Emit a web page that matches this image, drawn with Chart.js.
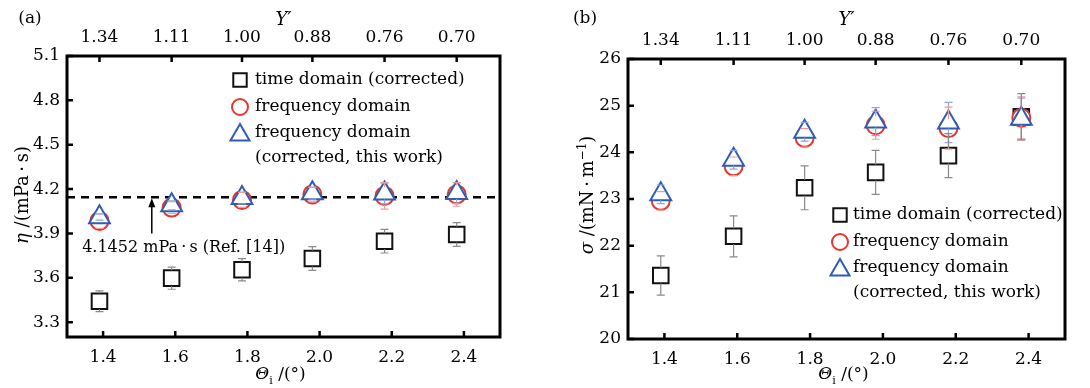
<!DOCTYPE html>
<html>
<head>
<meta charset="utf-8">
<script src="https://cdn.jsdelivr.net/npm/chart.js@4.4.1/dist/chart.umd.min.js"></script>
<style>
  body { margin: 0; background: #fff; }
  .panel { position: absolute; top: 0; width: 545px; height: 388px; }
</style>
</head>
<body>
<div class="panel" style="left:0"><canvas id="chartA" width="545" height="388"></canvas></div>
<div class="panel" style="left:545px"><canvas id="chartB" width="545" height="388"></canvas></div>
<script>
// incidence angle (bottom axis) and Y' (top axis)
const thetaI = [1.39, 1.59, 1.785, 1.98, 2.18, 2.38];
const yPrimeLabels = ['1.34', '1.11', '1.00', '0.88', '0.76', '0.70'];
const xTicks = [1.4, 1.6, 1.8, 2.0, 2.2, 2.4];

// (a) viscosity, mPa*s
const etaTime = [3.442, 3.598, 3.655, 3.731, 3.848, 3.893];
const etaTimeErr = [0.07, 0.075, 0.075, 0.08, 0.08, 0.08];
const etaFreq = [3.985, 4.075, 4.127, 4.164, 4.154, 4.164];
const etaFreqErr = [0.05, 0.04, 0.05, 0.05, 0.09, 0.08];
const etaCorr = [4.01, 4.09, 4.14, 4.172, 4.17, 4.174];
const etaCorrErr = [0.02, 0.03, 0.04, 0.04, 0.07, 0.07];
const etaRef = 4.1452;
const etaTicks = [3.3, 3.6, 3.9, 4.2, 4.5, 4.8, 5.1];

// (b) surface tension, mN/m
const sigmaTime = [21.36, 22.2, 23.24, 23.57, 23.93, 24.76];
const sigmaTimeErr = [0.42, 0.44, 0.47, 0.47, 0.47, 0.5];
const sigmaFreq = [22.96, 23.7, 24.31, 24.58, 24.52, 24.74];
const sigmaFreqErr = [0.2, 0.2, 0.2, 0.3, 0.45, 0.45];
const sigmaCorr = [23.1, 23.84, 24.44, 24.66, 24.64, 24.72];
const sigmaCorrErr = [0.2, 0.2, 0.2, 0.3, 0.43, 0.44];
const sigmaTicks = [20, 21, 22, 23, 24, 25, 26];

const legendLabels = ['time domain (corrected)', 'frequency domain', 'frequency domain', '(corrected, this work)'];

const FONT = "'DejaVu Serif', serif";
const RED = '#e8352a', BLUE = '#2f5db5';
Chart.defaults.font.family = FONT;
Chart.defaults.color = '#000';

function marker(ctx, style, x, y, r, color) {
  ctx.save();
  ctx.strokeStyle = color; ctx.fillStyle = '#fff'; ctx.lineWidth = 2;
  ctx.beginPath();
  if (style === 'rect') {
    const s = Math.SQRT1_2 * r;
    ctx.rect(x - s, y - s, 2 * s, 2 * s);
  } else if (style === 'circle') {
    ctx.arc(x, y, r, 0, Math.PI * 2);
  } else {
    ctx.moveTo(x, y - r);
    ctx.lineTo(x + 0.866 * r, y + 0.5 * r);
    ctx.lineTo(x - 0.866 * r, y + 0.5 * r);
    ctx.closePath();
  }
  ctx.fill(); ctx.stroke();
  ctx.restore();
}

function drawRich(ctx, parts, cx, cy, size, rot) {
  ctx.save();
  ctx.translate(cx, cy);
  if (rot) ctx.rotate(rot);
  const fontOf = p => (p.it ? 'italic ' : '') + Math.round(p.sub || p.sup ? size * 0.65 : size) + 'px ' + FONT;
  let w = 0;
  parts.forEach(p => { ctx.font = fontOf(p); w += ctx.measureText(p.t).width; });
  let x = -w / 2;
  ctx.textBaseline = 'middle'; ctx.textAlign = 'left'; ctx.fillStyle = '#000';
  parts.forEach(p => {
    ctx.font = fontOf(p);
    const dy = p.sub ? size * 0.35 : p.sup ? -size * 0.3 : 0;
    ctx.fillText(p.t, x, dy);
    x += ctx.measureText(p.t).width;
  });
  ctx.restore();
}

const paperPlugin = {
  id: 'paper',
  afterDatasetsDraw(chart) {
    const ctx = chart.ctx, ys = chart.scales.y;
    chart.data.datasets.forEach((ds, i) => {
      if (!ds.errors) return;
      const meta = chart.getDatasetMeta(i);
      ctx.save();
      ctx.strokeStyle = ds.errColor; ctx.lineWidth = 1.2;
      meta.data.forEach((pt, j) => {
        const v = ds.data[j].y, e = ds.errors[j];
        const top = ys.getPixelForValue(v + e), bot = ys.getPixelForValue(v - e);
        ctx.beginPath();
        if (top < pt.y - ds.gapUp) { ctx.moveTo(pt.x, pt.y - ds.gapUp); ctx.lineTo(pt.x, top); }
        if (bot > pt.y + ds.gapDown) { ctx.moveTo(pt.x, pt.y + ds.gapDown); ctx.lineTo(pt.x, bot); }
        ctx.moveTo(pt.x - 4, top); ctx.lineTo(pt.x + 4, top);
        ctx.moveTo(pt.x - 4, bot); ctx.lineTo(pt.x + 4, bot);
        ctx.stroke();
      });
      ctx.restore();
    });
  },
  afterDraw(chart, args, o) {
    const ctx = chart.ctx, ca = chart.chartArea;
    const xs = chart.scales.x, x2 = chart.scales.x2, ys = chart.scales.y;
    ctx.save();
    // frame
    ctx.strokeStyle = '#000'; ctx.lineWidth = 3;
    ctx.strokeRect(ca.left, ca.top, ca.right - ca.left, ca.bottom - ca.top);
    // inward ticks
    ctx.lineWidth = 2.5;
    ctx.beginPath();
    xs.ticks.forEach(t => { const p = xs.getPixelForValue(t.value); ctx.moveTo(p, ca.bottom); ctx.lineTo(p, ca.bottom - 6); });
    x2.ticks.forEach(t => { const p = x2.getPixelForValue(t.value); ctx.moveTo(p, ca.top); ctx.lineTo(p, ca.top + 6); });
    ys.ticks.forEach(t => { const p = ys.getPixelForValue(t.value); ctx.moveTo(ca.left, p); ctx.lineTo(ca.left + 6, p); });
    ctx.stroke();
    ctx.restore();

    // titles
    drawRich(ctx, [{ t: o.letter }], o.letterPos[0], o.letterPos[1], 17);
    drawRich(ctx, [{ t: 'Y′', it: true }], (ca.left + ca.right) / 2, 20, 18);
    drawRich(ctx, [{ t: 'Θ', it: true }, { t: 'i', sub: true }, { t: ' /(°)' }], (ca.left + ca.right) / 2 - 3, 375, 17);
    drawRich(ctx, o.yTitle, o.yTitleX, 195, 18, -Math.PI / 2);

    // legend
    const lg = o.legend;
    const styles = [['rect', 9.5, '#111'], ['circle', 8, RED], ['triangle', 11, BLUE]];
    styles.forEach((s, i) => {
      marker(ctx, s[0], ca.left + lg.dx, ca.top + lg.dy[i] + (i === 2 ? 2 : 0), s[1], s[2]);
    });
    ctx.save();
    ctx.font = '17px ' + FONT; ctx.fillStyle = '#000';
    ctx.textBaseline = 'middle'; ctx.textAlign = 'left';
    legendLabels.forEach((t, i) => ctx.fillText(t, ca.left + lg.tx, ca.top + lg.dy[i]));
    ctx.restore();

    // reference arrow + label
    if (o.ref) {
      const ax = xs.getPixelForValue(o.ref.x);
      const yTop = ys.getPixelForValue(o.ref.y), yBot = ys.getPixelForValue(o.ref.from);
      ctx.save();
      ctx.strokeStyle = '#000'; ctx.fillStyle = '#000'; ctx.lineWidth = 1.5;
      ctx.beginPath(); ctx.moveTo(ax, yBot); ctx.lineTo(ax, yTop + 6); ctx.stroke();
      ctx.beginPath(); ctx.moveTo(ax, yTop + 1); ctx.lineTo(ax - 3.5, yTop + 10); ctx.lineTo(ax + 3.5, yTop + 10); ctx.closePath(); ctx.fill();
      ctx.font = '16px ' + FONT; ctx.textBaseline = 'middle'; ctx.textAlign = 'left';
      ctx.fillText(o.ref.text, xs.getPixelForValue(o.ref.labelX), ys.getPixelForValue(o.ref.labelY));
      ctx.restore();
    }
  }
};

function buildChart(id, d) {
  const pts = arr => thetaI.map((x, i) => ({ x: x, y: arr[i] }));
  const datasets = [
    { label: legendLabels[2], data: pts(d.corr), errors: d.corrErr, errColor: '#8ea6dc', gapUp: 12, gapDown: 6,
      pointStyle: 'triangle', pointRadius: 12, pointBorderWidth: 2, pointBorderColor: BLUE, pointBackgroundColor: '#fff', order: 1 },
    { label: legendLabels[1], data: pts(d.freq), errors: d.freqErr, errColor: '#f29a92', gapUp: 9, gapDown: 9,
      pointStyle: 'circle', pointRadius: 9, pointBorderWidth: 2, pointBorderColor: RED, pointBackgroundColor: '#fff', order: 2 },
    { label: legendLabels[0], data: pts(d.time), errors: d.timeErr, errColor: '#8a8a8a', gapUp: 8, gapDown: 8,
      pointStyle: 'rect', pointRadius: 11, pointBorderWidth: 2, pointBorderColor: '#111', pointBackgroundColor: '#fff', order: 3 }
  ];
  if (d.refLine) {
    datasets.push({ type: 'line', data: [{ x: 1.3, y: d.refLine }, { x: 2.5, y: d.refLine }],
      borderColor: '#000', borderWidth: 2.5, borderDash: [8, 6], pointRadius: 0, order: 5 });
  }
  const tickFont = { size: 17, family: FONT };
  return new Chart(document.getElementById(id), {
    type: 'scatter',
    data: { datasets: datasets },
    options: {
      responsive: false,
      animation: false,
      layout: { padding: { left: 0, right: d.box.right, top: 0, bottom: 0 } },
      plugins: { legend: { display: false }, tooltip: { enabled: false }, paper: d.paper },
      scales: {
        x: {
          type: 'linear', position: 'bottom', min: 1.3, max: 2.5,
          afterBuildTicks: s => { s.ticks = xTicks.map(v => ({ value: v })); },
          afterFit: s => { s.height = d.box.bottom; },
          grid: { display: false, drawTicks: false }, border: { display: false },
          ticks: { padding: 10, font: tickFont, color: '#000', autoSkip: false, maxRotation: 0, callback: v => v.toFixed(1) }
        },
        x2: {
          type: 'linear', position: 'top', min: 1.3, max: 2.5,
          afterBuildTicks: s => { s.ticks = thetaI.map(v => ({ value: v })); },
          afterFit: s => { s.height = d.box.top; },
          grid: { display: false, drawTicks: false }, border: { display: false },
          ticks: { padding: 8, font: tickFont, color: '#000', autoSkip: false, maxRotation: 0, callback: (v, i) => yPrimeLabels[i] }
        },
        y: {
          min: d.yMin, max: d.yMax,
          afterBuildTicks: s => { s.ticks = d.yTicks.map(v => ({ value: v })); },
          afterFit: s => { s.width = d.box.left; },
          grid: { display: false, drawTicks: false }, border: { display: false },
          ticks: { padding: 7, font: tickFont, color: '#000', autoSkip: false, callback: d.yFmt }
        }
      }
    },
    plugins: [paperPlugin]
  });
}

buildChart('chartA', {
  time: etaTime, timeErr: etaTimeErr, freq: etaFreq, freqErr: etaFreqErr, corr: etaCorr, corrErr: etaCorrErr,
  refLine: etaRef, yMin: 3.2, yMax: 5.1, yTicks: etaTicks, yFmt: v => v.toFixed(1),
  box: { left: 67, right: 45, top: 56, bottom: 51 },
  paper: {
    letter: '(a)', letterPos: [30, 19], yTitleX: 23,
    yTitle: [{ t: 'η', it: true }, { t: ' /(mPa\u2009·\u2009s)' }],
    legend: { dx: 173, tx: 188, dy: [24, 51, 77, 102] },
    ref: { x: 1.535, y: etaRef, from: 3.9, labelX: 1.342, labelY: 3.80, text: '4.1452 mPa\u2009·\u2009s (Ref. [14])' }
  }
});

buildChart('chartB', {
  time: sigmaTime, timeErr: sigmaTimeErr, freq: sigmaFreq, freqErr: sigmaFreqErr, corr: sigmaCorr, corrErr: sigmaCorrErr,
  yMin: 20, yMax: 26, yTicks: sigmaTicks, yFmt: v => String(v),
  box: { left: 83, right: 25, top: 59, bottom: 49 },
  paper: {
    letter: '(b)', letterPos: [40, 19], yTitleX: 43,
    yTitle: [{ t: 'σ', it: true }, { t: ' /(mN\u2009·\u2009m' }, { t: '−1', sup: true }, { t: ')' }],
    legend: { dx: 212, tx: 225, dy: [156, 183, 209, 234] }
  }
});
</script>
</body>
</html>
